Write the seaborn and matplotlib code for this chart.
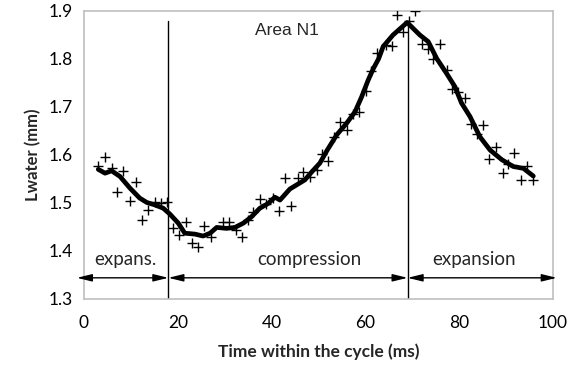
# Lwater over one cycle, Area N1 — raw points + smoothed curve
import numpy as np
import pandas as pd
import matplotlib
matplotlib.use('Agg')
import matplotlib.pyplot as plt
import seaborn as sns

# ── Data ────────────────────────────────────────────────────
t_pts = [3.05, 4.5, 5.9, 7.1, 8.4, 9.8, 11.2, 12.4, 13.7, 15.1, 16.4, 17.8,
         19.0, 20.3, 21.7, 23.0, 24.4, 25.6, 27.0, 29.6, 31.0, 32.4, 33.6,
         35.0, 36.1, 37.5, 38.8, 40.2, 41.6, 42.9, 44.1, 45.6, 46.8, 48.2,
         49.6, 50.7, 52.1, 53.3, 54.6, 56.0, 57.3, 58.7, 60.1, 61.3, 62.4,
         64.4, 65.6, 66.7, 68.1, 69.4, 70.6, 72.0, 73.3, 74.5, 75.9, 77.3,
         78.4, 79.8, 81.2, 82.5, 83.7, 85.1, 86.4, 87.8, 89.3, 90.3, 91.7,
         93.1, 94.4, 95.8]
lw_pts = [1.578, 1.596, 1.572, 1.522, 1.567, 1.504, 1.543, 1.464, 1.485, 1.501,
          1.499, 1.501, 1.447, 1.433, 1.461, 1.417, 1.409, 1.452, 1.430, 1.461,
          1.460, 1.444, 1.430, 1.465, 1.482, 1.508, 1.498, 1.510, 1.484, 1.551,
          1.494, 1.551, 1.565, 1.555, 1.569, 1.602, 1.588, 1.637, 1.669, 1.652,
          1.685, 1.690, 1.733, 1.775, 1.813, 1.829, 1.828, 1.892, 1.857, 1.880,
          1.899, 1.831, 1.820, 1.799, 1.831, 1.777, 1.737, 1.732, 1.719, 1.665,
          1.644, 1.662, 1.591, 1.616, 1.563, 1.581, 1.605, 1.548, 1.578, 1.548]

t_fit = [3.05, 4.5, 5.9, 7.7, 9.8, 11.9, 13.4, 15.1, 16.9, 18.3, 20.1, 21.5,
         23.7, 25.4, 26.9, 28.3, 30.4, 32.2, 34.0, 35.7, 37.5, 39.3, 40.7,
         41.8, 43.9, 47.1, 48.6, 50.3, 51.8, 53.9, 56.0, 57.8, 59.2, 60.6,
         61.7, 62.8, 63.8, 65.9, 68.9, 71.6, 73.4, 75.2, 77.3, 79.1, 80.5,
         82.3, 84.4, 86.6, 89.1, 91.5, 93.7, 95.8]
lw_fit = [1.570, 1.562, 1.567, 1.555, 1.531, 1.510, 1.501, 1.496, 1.489, 1.477,
          1.458, 1.437, 1.435, 1.431, 1.437, 1.449, 1.447, 1.449, 1.458, 1.471,
          1.489, 1.499, 1.512, 1.506, 1.529, 1.548, 1.565, 1.583, 1.609, 1.642,
          1.666, 1.690, 1.721, 1.756, 1.780, 1.800, 1.826, 1.850, 1.876, 1.850,
          1.836, 1.801, 1.770, 1.742, 1.708, 1.680, 1.638, 1.610, 1.590, 1.576,
          1.572, 1.556]

phase_bounds = [18, 69]          # vertical separators (ms)
phase_names  = ['expans.', 'compression', 'expansion']
phase_ranges = [(-1.5, 18), (18, 69), (69, 100.8)]
phase_text_x = [8.9, 48, 83.2]

pts = pd.DataFrame({'t': t_pts, 'lw': lw_pts})
fit = pd.DataFrame({'t': t_fit, 'lw': lw_fit})

# ── Style ───────────────────────────────────────────────────
sns.set_style('white')
plt.rcParams['font.family'] = ['Lato', 'DejaVu Sans']
GRAY = '#bfbfbf'

fig = plt.figure(figsize=(5.71, 3.65), dpi=100)
ax = fig.add_axes([0.147, 0.181, 0.8215, 0.789])

sns.scatterplot(data=pts, x='t', y='lw', ax=ax, marker='+', color='black',
                s=60, linewidth=1.0, zorder=3)
sns.lineplot(data=fit, x='t', y='lw', ax=ax, color='black', linewidth=3.4,
             zorder=4)

# phase separators
for b in phase_bounds:
    ax.plot([b, b], [1.3, 1.88], color='black', linewidth=1.0, zorder=2)

# double arrows + labels
for (x0, x1), name, tx in zip(phase_ranges, phase_names, phase_text_x):
    ax.annotate('', xy=(x0, 1.344), xytext=(x1, 1.344),
                arrowprops=dict(arrowstyle='<|-|>,head_length=0.9,head_width=0.22',
                                color='black', lw=1.0, shrinkA=0, shrinkB=0),
                annotation_clip=False)
    ax.text(tx, 1.382, name, ha='center', va='center', fontsize=13.5)

ax.text(43.2, 1.86, 'Area N1', ha='center', va='center', fontsize=12.5,
        family=['Liberation Sans', 'DejaVu Sans'])

# ── Axes ────────────────────────────────────────────────────
ax.set_xlim(0, 100)
ax.set_ylim(1.3, 1.9)
ax.set_xticks(np.arange(0, 101, 20))
ax.set_xticks(np.arange(0, 101, 4), minor=True)
ax.set_yticks(np.arange(1.3, 1.91, 0.1))
ax.set_yticklabels([f'{v:.1f}' for v in np.arange(1.3, 1.91, 0.1)])
ax.tick_params(axis='both', labelsize=12.5, colors='black')
ax.tick_params(axis='x', which='major', direction='inout', length=9,
               width=1, color=GRAY, pad=7)
ax.tick_params(axis='x', which='minor', direction='in', length=4,
               width=1, color=GRAY)
ax.tick_params(axis='y', which='major', direction='in', length=5,
               width=1, color=GRAY, pad=8)

for sp in ax.spines.values():
    sp.set_visible(True)
    sp.set_color(GRAY)
    sp.set_linewidth(1.2)

ax.set_xlabel('Time within the cycle (ms)', fontsize=12.5, fontweight='bold',
              labelpad=9)
ax.set_ylabel('Lwater (mm)', fontsize=12, fontweight='bold', labelpad=5)

fig.savefig('out.png', dpi=100)
plt.close(fig)
